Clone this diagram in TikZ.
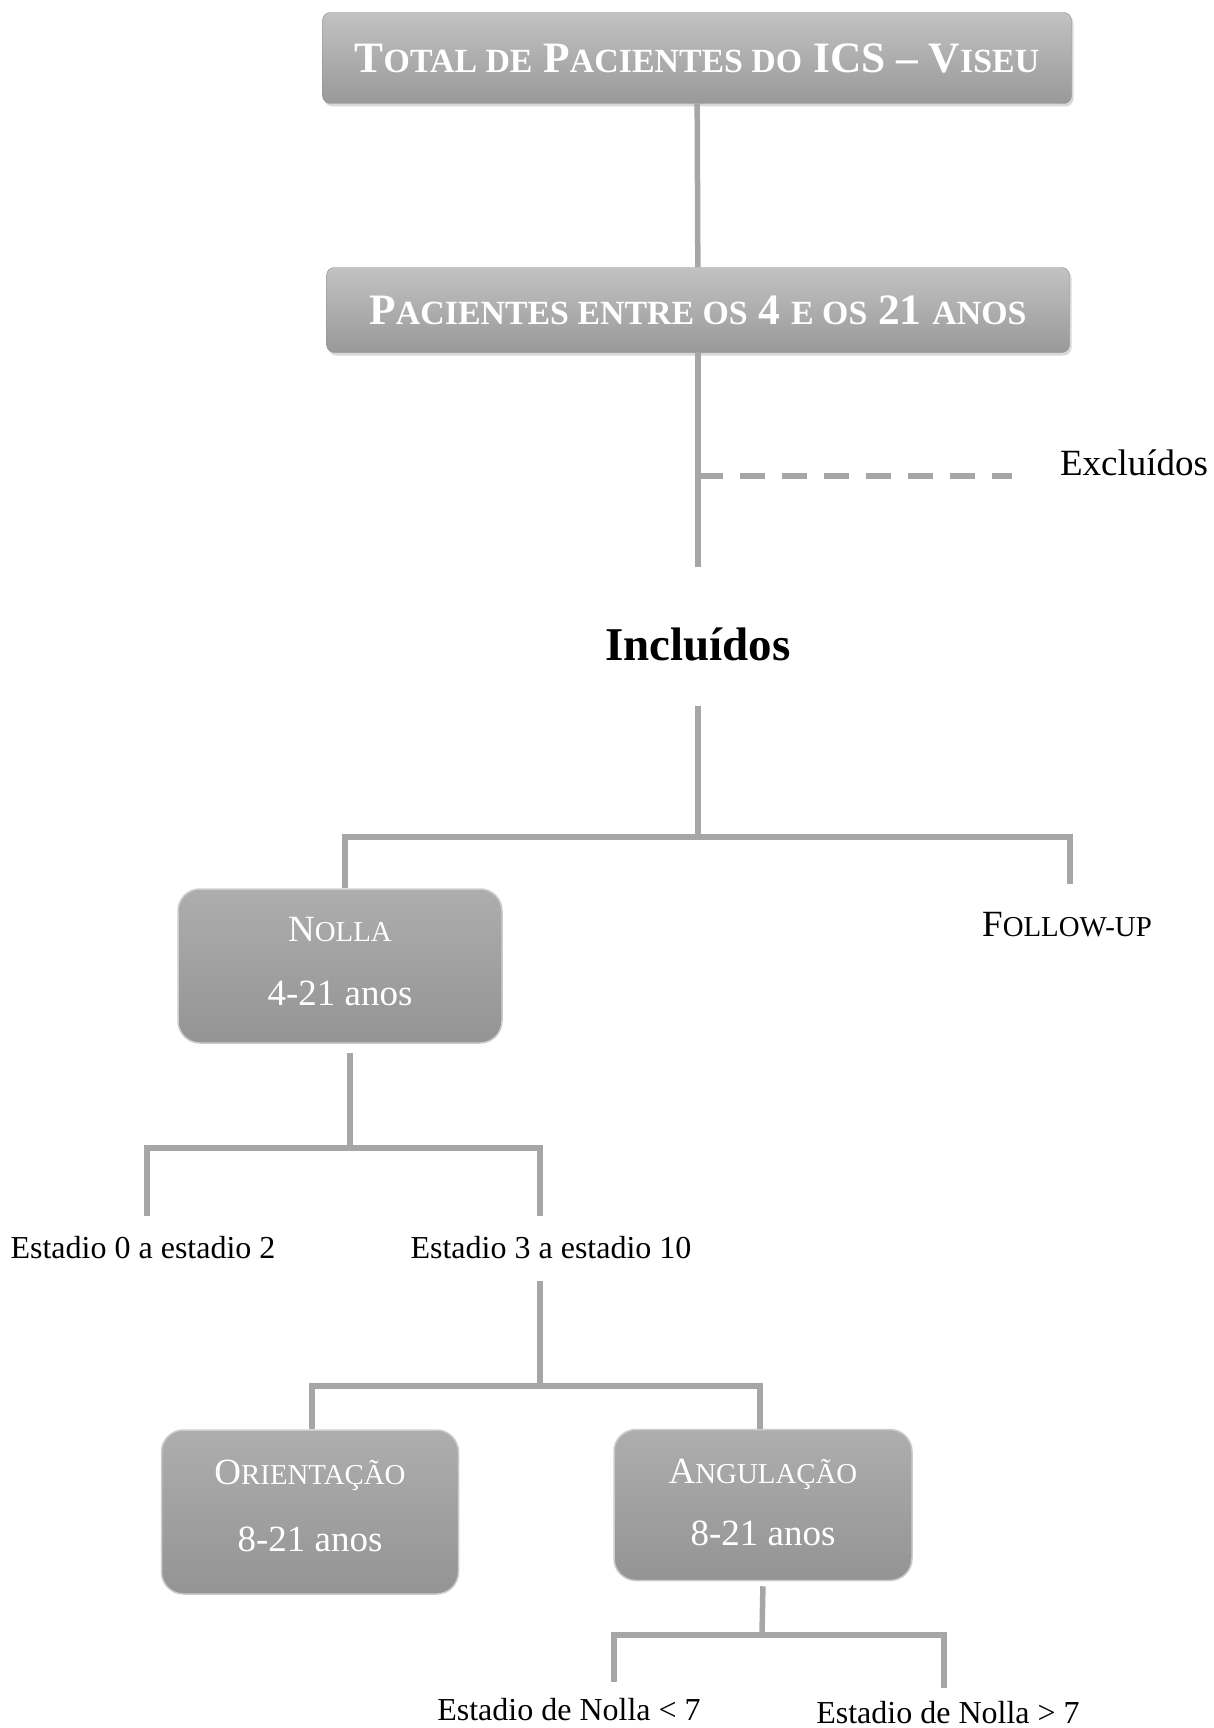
\documentclass[tikz,border=0pt]{standalone}
\usepackage{fontspec}
\setmainfont{Liberation Serif}
\usetikzlibrary{positioning, shadows}
\makeatletter
\newcommand\lowcap[1]{{\fontsize{\fpeval{0.78*\f@size}}{\f@baselineskip}\selectfont #1}}
\makeatother
\definecolor{linkgray}{HTML}{A6A6A6}
\tikzset{
  banner/.style={draw=black!45, rounded corners=8pt, top color=black!24, bottom color=black!40, text=white,
    font=\fontsize{43.4}{43.4}\selectfont\bfseries, minimum width=749pt, minimum height=91pt,
    drop shadow={opacity=0.3, shadow xshift=2pt, shadow yshift=-3pt}},
  grpbox/.style={draw=black!20, line width=1.5pt, rounded corners=22pt, top color=black!32, bottom color=black!42,
    text=white, align=center, font=\fontsize{37}{64}\selectfont},
  lbl/.style={font=\fontsize{32}{32}\selectfont, inner sep=0pt},
  link/.style={draw=linkgray, line width=5.5pt},
}
\begin{document}
\begin{tikzpicture}[x=1pt, y=-1pt]
  \useasboundingbox (0,0) rectangle (1214,1728);
  \node[banner] (total) at (697,58) {T\lowcap{OTAL DE} P\lowcap{ACIENTES DO} ICS – V\lowcap{ISEU}};
  \node[banner, minimum width=743pt, minimum height=85pt] (pac) at (698,310) {P\lowcap{ACIENTES ENTRE OS} 4 \lowcap{E OS} 21 \lowcap{ANOS}};
  \coordinate (cut) at (698,567);
  \coordinate (excl end) at (1012,476);
  \node[lbl, font=\fontsize{37}{37}\selectfont] (excl) at (1134,463) {Excluídos};
  \node[inner sep=0pt, font=\fontsize{47}{47}\selectfont\bfseries] (incl) at (698,644) {Incluídos};
  \node[lbl, font=\fontsize{37}{37}\selectfont] (fu) at (1067,925) {F\lowcap{OLLOW-UP}};
  \node[grpbox, minimum width=324pt, minimum height=154pt] (nolla) at (340,966) {N\lowcap{OLLA}\\4-21 anos\\[-54pt]};
  \node[lbl] (st02) at (143,1248) {Estadio 0 a estadio 2};
  \node[lbl] (st310) at (551,1248) {Estadio 3 a estadio 10};
  \node[grpbox, minimum width=297pt, minimum height=164pt, font=\fontsize{37}{67}\selectfont] (orient) at (310,1512) {O\lowcap{RIENTAÇÃO}\\8-21 anos\\[-54pt]};
  \node[grpbox, minimum width=298pt, minimum height=151pt, font=\fontsize{37}{62}\selectfont] (angul) at (763,1505) {A\lowcap{NGULAÇÃO}\\8-21 anos\\[-56pt]};
  \node[lbl] (nl7) at (569,1710) {Estadio de Nolla < 7};
  \node[lbl] (ng7) at (948,1713) {Estadio de Nolla > 7};
  \coordinate (j1) at (698,837);
  \coordinate (j2) at (350,1148);
  \coordinate (j3) at (540,1386);
  \coordinate (j4) at (762,1635);
  \draw[link] (total) -- (pac);
  \draw[link] (pac) -- (cut);
  \draw[link, dash pattern=on 25pt off 17pt] (pac |- excl end) -- (excl end);
  \draw[link, shorten <=45pt] (incl.south) -- (j1);
  \draw[link] ([xshift=5pt]nolla.north) |- (j1) -| ([xshift=3pt,yshift=28pt]fu.north);
  \draw[link, shorten <=9pt] ([xshift=10pt]nolla.south) -- (j2);
  \draw[link, shorten <=21pt, shorten >=21pt] ([xshift=4pt]st02.north) |- (j2) -| ([xshift=-11pt]st310.north);
  \draw[link, shorten <=22pt] ([xshift=-11pt]st310.south) -- (j3);
  \draw[link] ([xshift=2pt]orient.north) |- (j3) -| ([xshift=-3pt]angul.north);
  \draw[link, shorten <=5pt] (angul.south) -- (j4);
  \draw[link, shorten <=17pt, shorten >=14pt] ([xshift=45pt]nl7.north) |- (j4) -| ([xshift=-4pt]ng7.north);
\end{tikzpicture}
\end{document}
